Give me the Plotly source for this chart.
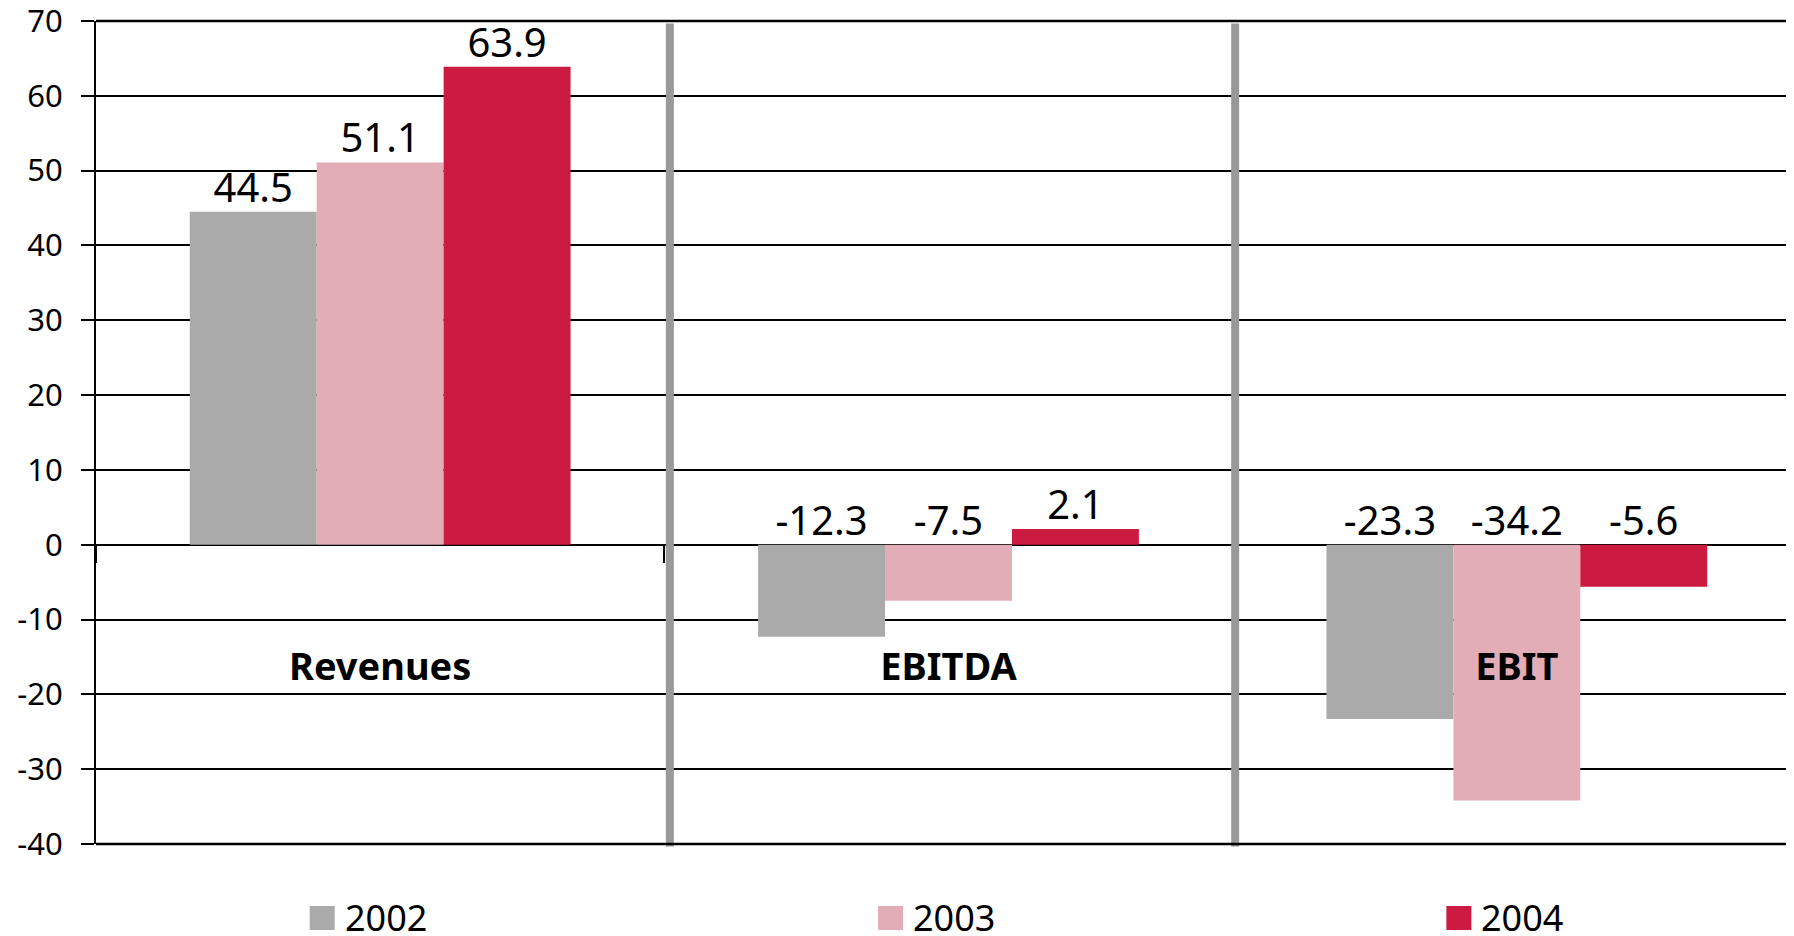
import plotly.graph_objects as go

categories = ["Revenues", "EBITDA", "EBIT"]
years = ["2002", "2003", "2004"]
values_2002 = [44.5, -12.3, -23.3]
values_2003 = [51.1, -7.5, -34.2]
values_2004 = [63.9, 2.1, -5.6]
series = [values_2002, values_2003, values_2004]
colors = ["#AAAAAA", "#E2ADB6", "#CC1B40"]
y_ticks = list(range(-40, 71, 10))
y_tick_text = [str(t) for t in y_ticks]
y_min, y_max = -40, 70

FONT = "Noto Sans"
BARGAP = 0.33
SEP_NUDGE = [0.0097, 0.0044]  # small visual nudge of separator lines

fig = go.Figure()
for name, vals, col in zip(years, series, colors):
    fig.add_trace(go.Bar(
        x=categories, y=vals, name=name, marker=dict(color=col, line=dict(width=0)),
        offsetgroup=name, showlegend=False, hoverinfo="skip",
    ))
for name, vals in zip(years, series):
    fig.add_trace(go.Scatter(
        x=categories, y=[max(v, 0) for v in vals], mode="text",
        text=[f"{v:.1f}" for v in vals], textposition="top center",
        textfont=dict(family=FONT, size=40, color="black"),
        offsetgroup=name, orientation="v", showlegend=False, hoverinfo="skip",
        cliponaxis=False,
    ))

shapes = []
# category separators
for i in range(1, len(categories)):
    xs = i - 0.5 + SEP_NUDGE[i - 1]
    shapes.append(dict(type="line", xref="x", yref="paper", x0=xs, x1=xs,
                       y0=-0.003, y1=0.997, line=dict(color="#999999", width=8), layer="above"))
# top and bottom frame lines
for yy in (0, 1):
    shapes.append(dict(type="line", xref="paper", yref="paper", x0=0, x1=1, y0=yy, y1=yy,
                       line=dict(color="black", width=2.5), layer="above"))

annotations = []
# legend (swatch + label under each category)
leg_y = -0.0899
for i, (name, col) in enumerate(zip(years, colors)):
    shapes.append(dict(type="rect", xref="x", yref="paper", x0=i - 0.124, x1=i - 0.080,
                       y0=leg_y - 0.0146, y1=leg_y + 0.0146, fillcolor=col,
                       line=dict(width=0)))
    annotations.append(dict(xref="x", yref="paper", x=i - 0.066, y=leg_y, text=name,
                            xanchor="left", yanchor="middle", showarrow=False,
                            font=dict(family=FONT, size=36, color="black")))

fig.update_layout(
    width=1794, height=936,
    margin=dict(l=88, r=1, t=13, b=100, autoexpand=False),
    paper_bgcolor="white", plot_bgcolor="white",
    barmode="group", bargap=BARGAP, bargroupgap=0,
    scattermode="group", scattergap=BARGAP,
    showlegend=False,
    shapes=shapes, annotations=annotations,
    xaxis=dict(
        type="category", categoryorder="array", categoryarray=categories,
        anchor="free", position=(0 - y_min) / (y_max - y_min),
        showgrid=False, showline=False, zeroline=False, automargin=False,
        ticks="outside", ticklen=17, tickwidth=1.5, tickcolor="black",
        tickson="boundaries",
        tickfont=dict(family=FONT, size=38, color="black", weight=700),
        ticklabelstandoff=96,
    ),
    yaxis=dict(
        range=[y_min, y_max], tickvals=y_ticks, ticktext=y_tick_text,
        showgrid=True, gridcolor="black", gridwidth=1.5,
        zeroline=False, automargin=False, ticklabeloverflow="allow",
        showline=True, linecolor="black", linewidth=2,
        ticks="outside", ticklen=13, tickwidth=1.5, tickcolor="black",
        tickfont=dict(family=FONT, size=31, color="black"),
        ticklabelstandoff=12,
    ),
)

fig.write_html("out.html")
